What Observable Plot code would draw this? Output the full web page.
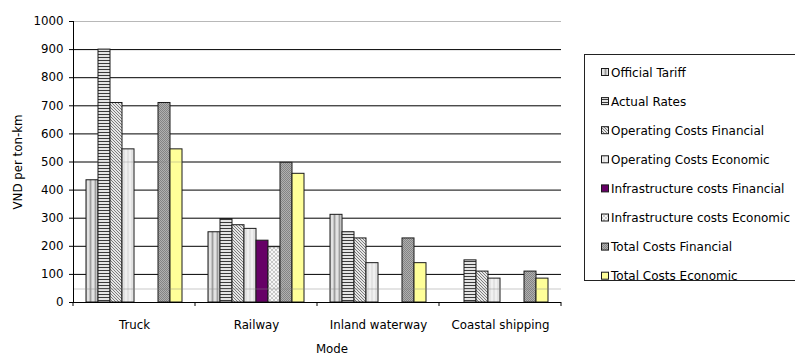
<!DOCTYPE html>
<html>
<head>
<meta charset="utf-8">
<script src="https://cdn.jsdelivr.net/npm/d3@7"></script>
<script src="https://cdn.jsdelivr.net/npm/@observablehq/plot@0.6"></script>
<style>
  html, body { margin: 0; padding: 0; background: #fff; }
  #chart { width: 795px; height: 357px; overflow: hidden; }
</style>
</head>
<body>
<div id="chart"></div>
<script>
// Transport modes on the category axis
const modes = ["Truck", "Railway", "Inland waterway", "Coastal shipping"];

// Cost / tariff series (legend order)
const series = [
  "Official Tariff",
  "Actual Rates",
  "Operating Costs Financial",
  "Operating Costs Economic",
  "Infrastructure costs Financial",
  "Infrastructure costs Economic",
  "Total Costs Financial",
  "Total Costs Economic"
];

// VND per ton-km, one value per mode (null = not reported)
const officialTariff   = [435, 250, 312, null];
const actualRates      = [900, 297, 250, 150];
const opCostsFinancial = [710, 275, 228, 110];
const opCostsEconomic  = [545, 262, 140,  85];
const infraFinancial   = [null, 220, null, null];
const infraEconomic    = [null, 197, null, null];
const totalFinancial   = [710, 497, 228, 110];
const totalEconomic    = [545, 458, 140,  85];

const yTicks = [0, 100, 200, 300, 400, 500, 600, 700, 800, 900, 1000];

const seriesValues = [
  officialTariff, actualRates, opCostsFinancial, opCostsEconomic,
  infraFinancial, infraEconomic, totalFinancial, totalEconomic
];

// Fill for each series: hatched patterns defined below, or plain colours
const fills = [
  "url(#pTariff)", "url(#pActual)", "url(#pOpFin)", "url(#pOpEcon)",
  "#660066", "url(#pInfraEcon)", "url(#pTotalFin)", "#ffff99"
];

const rows = [];
series.forEach((s, i) => {
  modes.forEach((m, j) => {
    const v = seriesValues[i][j];
    if (v != null) rows.push({mode: m, series: s, value: v});
  });
});

const FONT = "DejaVu Sans";

const chart = Plot.plot({
  width: 795,
  height: 357,
  marginLeft: 73,
  marginRight: 234,
  marginTop: 21,
  marginBottom: 55,
  style: {fontFamily: FONT, fontSize: "11.8px", color: "#000", background: "#fff", overflow: "visible"},
  fx: {domain: modes, padding: 0, label: null, axis: "bottom", tickSize: 0, tickPadding: 18},
  x: {domain: series, paddingInner: 0, paddingOuter: 0.75, axis: null},
  y: {domain: [0, 1000], ticks: yTicks, tickSize: 4, tickPadding: 6,
      tickFormat: d => String(d), label: "VND per ton-km", labelAnchor: "center", labelArrow: false, labelOffset: 60},
  color: {domain: series, range: fills, type: "ordinal", legend: false},
  marks: [
    Plot.gridY(yTicks.filter(d => d > 0 && d < 1000), {stroke: "#000", strokeOpacity: 1}),
    Plot.gridY([1000], {stroke: "#b8b8b8", strokeOpacity: 1}),
    Plot.barY(rows, {fx: "mode", x: "series", y: "value", fill: "series", stroke: "#1a1a1a", strokeWidth: 1, inset: 0}),
    Plot.ruleY([500], {stroke: "#777", strokeOpacity: 0.35}),
    Plot.ruleY([48], {stroke: "#888", strokeOpacity: 0.45}),
    Plot.ruleY([0], {stroke: "#000"})
  ]
});

document.getElementById("chart").appendChild(chart);

const svg = d3.select(chart);
const defs = svg.insert("defs", ":first-child");

// Vertical grey stripes
const pT = defs.append("pattern").attr("id", "pTariff").attr("patternUnits", "userSpaceOnUse").attr("width", 5).attr("height", 5);
pT.append("rect").attr("width", 5).attr("height", 5).attr("fill", "#c4c4c4");
pT.append("rect").attr("x", 0).attr("width", 1).attr("height", 5).attr("fill", "#9c9c9c");
pT.append("rect").attr("x", 2).attr("width", 2).attr("height", 5).attr("fill", "#e2e2e2");

// Horizontal dark lines
const pA = defs.append("pattern").attr("id", "pActual").attr("patternUnits", "userSpaceOnUse").attr("width", 3).attr("height", 3);
pA.append("rect").attr("width", 3).attr("height", 3).attr("fill", "#e4e4e4");
pA.append("rect").attr("y", 0).attr("width", 3).attr("height", 1).attr("fill", "#3a3a3a");

// Diagonal hatch
const pOF = defs.append("pattern").attr("id", "pOpFin").attr("patternUnits", "userSpaceOnUse").attr("width", 3).attr("height", 3);
pOF.append("rect").attr("width", 3).attr("height", 3).attr("fill", "#e6e6e6");
pOF.append("path").attr("d", "M0,0L3,3M-1,2L1,4M2,-1L4,1").attr("stroke", "#7c7c7c").attr("stroke-width", 1);

// Light grey, faint stripes
const pOE = defs.append("pattern").attr("id", "pOpEcon").attr("patternUnits", "userSpaceOnUse").attr("width", 4).attr("height", 4);
pOE.append("rect").attr("width", 4).attr("height", 4).attr("fill", "#e2e2e2");
pOE.append("rect").attr("x", 1).attr("width", 2).attr("height", 4).attr("fill", "#f0f0f0");

// Light cross-hatch
const pIE = defs.append("pattern").attr("id", "pInfraEcon").attr("patternUnits", "userSpaceOnUse").attr("width", 4).attr("height", 4);
pIE.append("rect").attr("width", 4).attr("height", 4).attr("fill", "#f6f6f6");
pIE.append("path").attr("d", "M0,0L4,4M4,0L0,4").attr("stroke", "#bdbdbd").attr("stroke-width", 0.8);

// Dark checker
const pTF = defs.append("pattern").attr("id", "pTotalFin").attr("patternUnits", "userSpaceOnUse").attr("width", 2).attr("height", 2);
pTF.append("rect").attr("width", 2).attr("height", 2).attr("fill", "#b0b0b0");
pTF.append("rect").attr("width", 1).attr("height", 1).attr("fill", "#848484");
pTF.append("rect").attr("x", 1).attr("y", 1).attr("width", 1).attr("height", 1).attr("fill", "#848484");

// Axis line and group separator ticks from the library's scales
const fx = chart.scale("fx");
const yS = chart.scale("y");
const y0 = yS.apply(0), yTop = yS.apply(1000);
const x0 = fx.apply(modes[0]);
svg.append("line").attr("x1", x0).attr("x2", x0).attr("y1", yTop).attr("y2", y0)
  .attr("stroke", "#000").attr("shape-rendering", "crispEdges");
const edges = modes.map(m => fx.apply(m)).concat([fx.apply(modes[modes.length - 1]) + fx.bandwidth]);
svg.append("g").selectAll("line").data(edges).join("line")
  .attr("x1", d => d).attr("x2", d => d).attr("y1", y0).attr("y2", y0 + 4)
  .attr("stroke", "#000");

// X axis title
svg.append("text").attr("x", 332).attr("y", 349).attr("text-anchor", "middle").attr("dy", "0.35em")
  .attr("font-family", FONT).attr("font-size", "11.8px").attr("fill", "#000").text("Mode");

// Legend
const lg = svg.append("g").attr("text-anchor", "start");
lg.append("rect").attr("x", 584.5).attr("y", 54.5).attr("width", 230).attr("height", 226)
  .attr("fill", "#fff").attr("stroke", "#222");
series.forEach((s, i) => {
  const cy = 72.5 + i * 29.1;
  lg.append("rect").attr("x", 601.5).attr("y", cy - 4).attr("width", 7).attr("height", 7)
    .attr("fill", fills[i]).attr("stroke", "#1a1a1a");
  lg.append("text").attr("x", 611).attr("y", cy).attr("dy", "0.35em").attr("text-anchor", "start")
    .attr("font-family", FONT).attr("font-size", "12px").attr("fill", "#000").text(s);
});
</script>
</body>
</html>
